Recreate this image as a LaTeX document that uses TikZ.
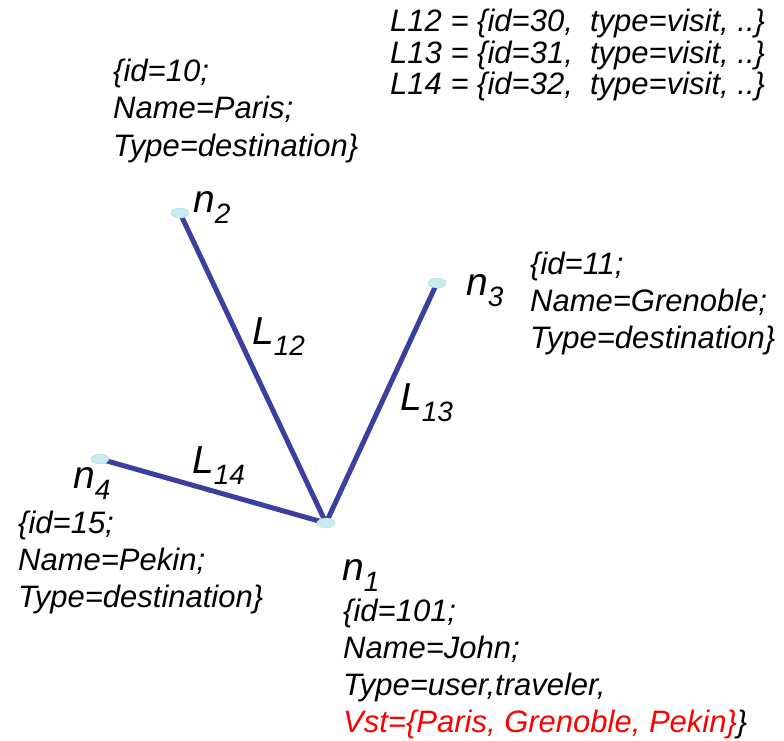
\documentclass[tikz,border=0pt]{standalone}
\usepackage{fontspec}
\setmainfont{Liberation Sans}
\usetikzlibrary{shapes.geometric, backgrounds}
\definecolor{linkblue}{HTML}{3B3F9E}
\definecolor{vertexcyan}{HTML}{C6ECF0}
\definecolor{vstred}{HTML}{FF0000}
\newcommand{\vsub}[2]{#1\raisebox{-11pt}{\fontsize{28}{28}\selectfont #2}}

\begin{document}
\begin{tikzpicture}[x=1pt, y=-1pt,
    vertex/.style={ellipse, fill=vertexcyan, draw=vertexcyan!80!gray, thin,
                   minimum width=18pt, minimum height=10pt, inner sep=0pt},
    link/.style={linkblue, line width=5pt},
    vlabel/.style={anchor=base west, inner sep=0pt, font=\fontsize{39}{39}\selectfont\itshape},
    info/.style={anchor=base west, align=left, inner sep=0pt,
                 font=\fontsize{31}{37}\selectfont\itshape}]
  \useasboundingbox (0,0) rectangle (784,741);
  % vertices
  \node[vertex] (n1) at (326,523) {};
  \node[vertex] (n2) at (180,213) {};
  \node[vertex] (n3) at (437,283) {};
  \node[vertex] (n4) at (100,459) {};
  % links
  \begin{scope}[on background layer]
    \draw[link] (n1.center) -- (n2.center);
    \draw[link] (n1.center) -- (n3.center);
    \draw[link] (n1.center) -- (n4.center);
  \end{scope}
  % vertex names
  \node[vlabel] (lab1) at (342,580) {\vsub{n}{1}};
  \node[vlabel] (lab2) at (193,212) {\vsub{n}{2}};
  \node[vlabel] (lab3) at (466,295) {\vsub{n}{3}};
  \node[vlabel] (lab4) at (73,488) {\vsub{n}{4}};
  % link names
  \node[vlabel] (l12) at (252,344) {\vsub{L}{12}};
  \node[vlabel] (l13) at (400,410) {\vsub{L}{13}};
  \node[vlabel] (l14) at (192,473) {\vsub{L}{14}};
  % properties (anchored at the last line)
  \node[info] (info2) at (113,156) {\{id=10;\\Name=Paris;\\Type=destination\}};
  \node[info] (info3) at (530,348) {\{id=11;\\Name=Grenoble;\\Type=destination\}};
  \node[info] (info4) at (18,607) {\{id=15;\\Name=Pekin;\\Type=destination\}};
  \node[info] (info1) at (343,732) {\{id=101;\\Name=John;\\Type=user,traveler,\\
    \textcolor{vstred}{Vst=\{Paris, Grenoble, Pekin\}}\}};
  \node[info, font=\fontsize{31}{31.5}\selectfont\itshape] (links) at (390,95)
    {L12 = \{id=30,\ \ type=visit, ..\}\\L13 = \{id=31,\ \ type=visit, ..\}\\L14 = \{id=32,\ \ type=visit, ..\}};
\end{tikzpicture}
\end{document}
